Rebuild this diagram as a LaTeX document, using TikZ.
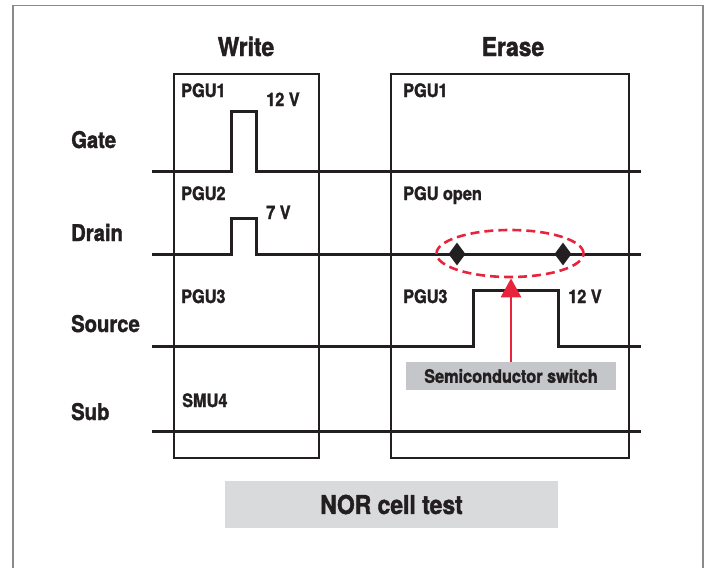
\documentclass[tikz,border=0pt]{standalone}
\usepackage{fontspec}
\setmainfont{TeX Gyre Heros}[FakeStretch=0.88, BoldFeatures={FakeBold=1.6}]
\usetikzlibrary{shapes.geometric,arrows.meta}
\definecolor{swred}{HTML}{E8243C}
\definecolor{framegray}{HTML}{8A8A8A}
\definecolor{boxgray}{HTML}{C5C6CA}
\definecolor{norgray}{HTML}{D9DADC}
\definecolor{ink}{HTML}{231F20}
\begin{document}
\begin{tikzpicture}[x=1pt,y=-1pt,
  sig/.style={line width=3pt, line join=miter, ink},
  cell/.style={line width=1.5pt, ink},
  small/.style={font=\bfseries\fontsize{18.5}{20}\selectfont, anchor=base west, inner sep=0pt, text=ink},
  rowlbl/.style={font=\bfseries\fontsize{23}{25}\selectfont, anchor=base west, inner sep=0pt, text=ink},
  title/.style={font=\bfseries\fontsize{26}{28}\selectfont, anchor=base, inner sep=0pt, text=ink},
  swbox/.style={fill=boxgray, minimum width=210pt, minimum height=28pt, inner sep=0pt, font=\bfseries\fontsize{18.5}{20}\selectfont, text=ink},
  norbox/.style={fill=norgray, minimum width=333pt, minimum height=47pt, inner sep=0pt, font=\bfseries\fontsize{26}{28}\selectfont, text=ink},
  switchmark/.style={diamond, fill=ink, inner sep=0pt, minimum width=17pt, minimum height=23pt},
  ring/.style={ellipse, draw=swred, dashed, dash pattern=on 9pt off 5pt, line width=2.6pt, minimum width=147pt, minimum height=47pt, inner sep=0pt},
  redarrow/.style={swred, line width=2.8pt, -{Triangle[length=19pt,width=20pt]}}
]
\useasboundingbox (0,0) rectangle (707,568);
\draw[framegray, line width=1.6pt] (13,568) -- (13,5.5) -- (703,5.5) -- (703,568);

% cells
\draw[cell] (174,74) rectangle (319,458);
\draw[cell] (391,74) rectangle (629,458);

% titles
\node[title] (tw) at (246,56) {Write};
\node[title] (te) at (513,56) {Erase};

% row labels
\node[rowlbl] (lg) at (71,148) {Gate};
\node[rowlbl] (ld) at (71,241) {Drain};
\node[rowlbl] (ls) at (71,332) {Source};
\node[rowlbl] (lb) at (71,420) {Sub};

% signals
\draw[sig] (152,171) -- (231,171) -- (231,111) -- (256,111) -- (256,171) -- (641,171);
\draw[sig] (152,254) -- (231,254) -- (231,218) -- (256,218) -- (256,254) -- (641,254);
\draw[sig] (152,346) -- (473,346) -- (473,290) -- (558,290) -- (558,346) -- (641,346);
\draw[sig] (152,431) -- (641,431);

% write labels
\node[small] (w1) at (181,97) {PGU1};
\node[small] (w1v) at (266,106) {12 V};
\node[small] (w2) at (181,200) {PGU2};
\node[small] (w2v) at (266,219) {7 V};
\node[small] (w3) at (181,303) {PGU3};
\node[small] (w4) at (182,407) {SMU4};

% erase labels
\node[small] (e1) at (403,97) {PGU1};
\node[small] (e2) at (403,200) {PGU open};
\node[small] (e3) at (403,303) {PGU3};
\node[small] (e3v) at (568,303) {12 V};

% semiconductor switch
\node[switchmark] (d1) at (457,254) {};
\node[switchmark] (d2) at (563,254) {};
\node[ring] (ell) at (510,253.5) {};
\node[swbox] (sw) at (511,376) {Semiconductor switch};
\draw[redarrow] (sw.north) -- (sw.north |- ell.south);

% caption
\node[norbox] (nor) at (391.5,504.5) {NOR cell test};
\end{tikzpicture}
\end{document}
